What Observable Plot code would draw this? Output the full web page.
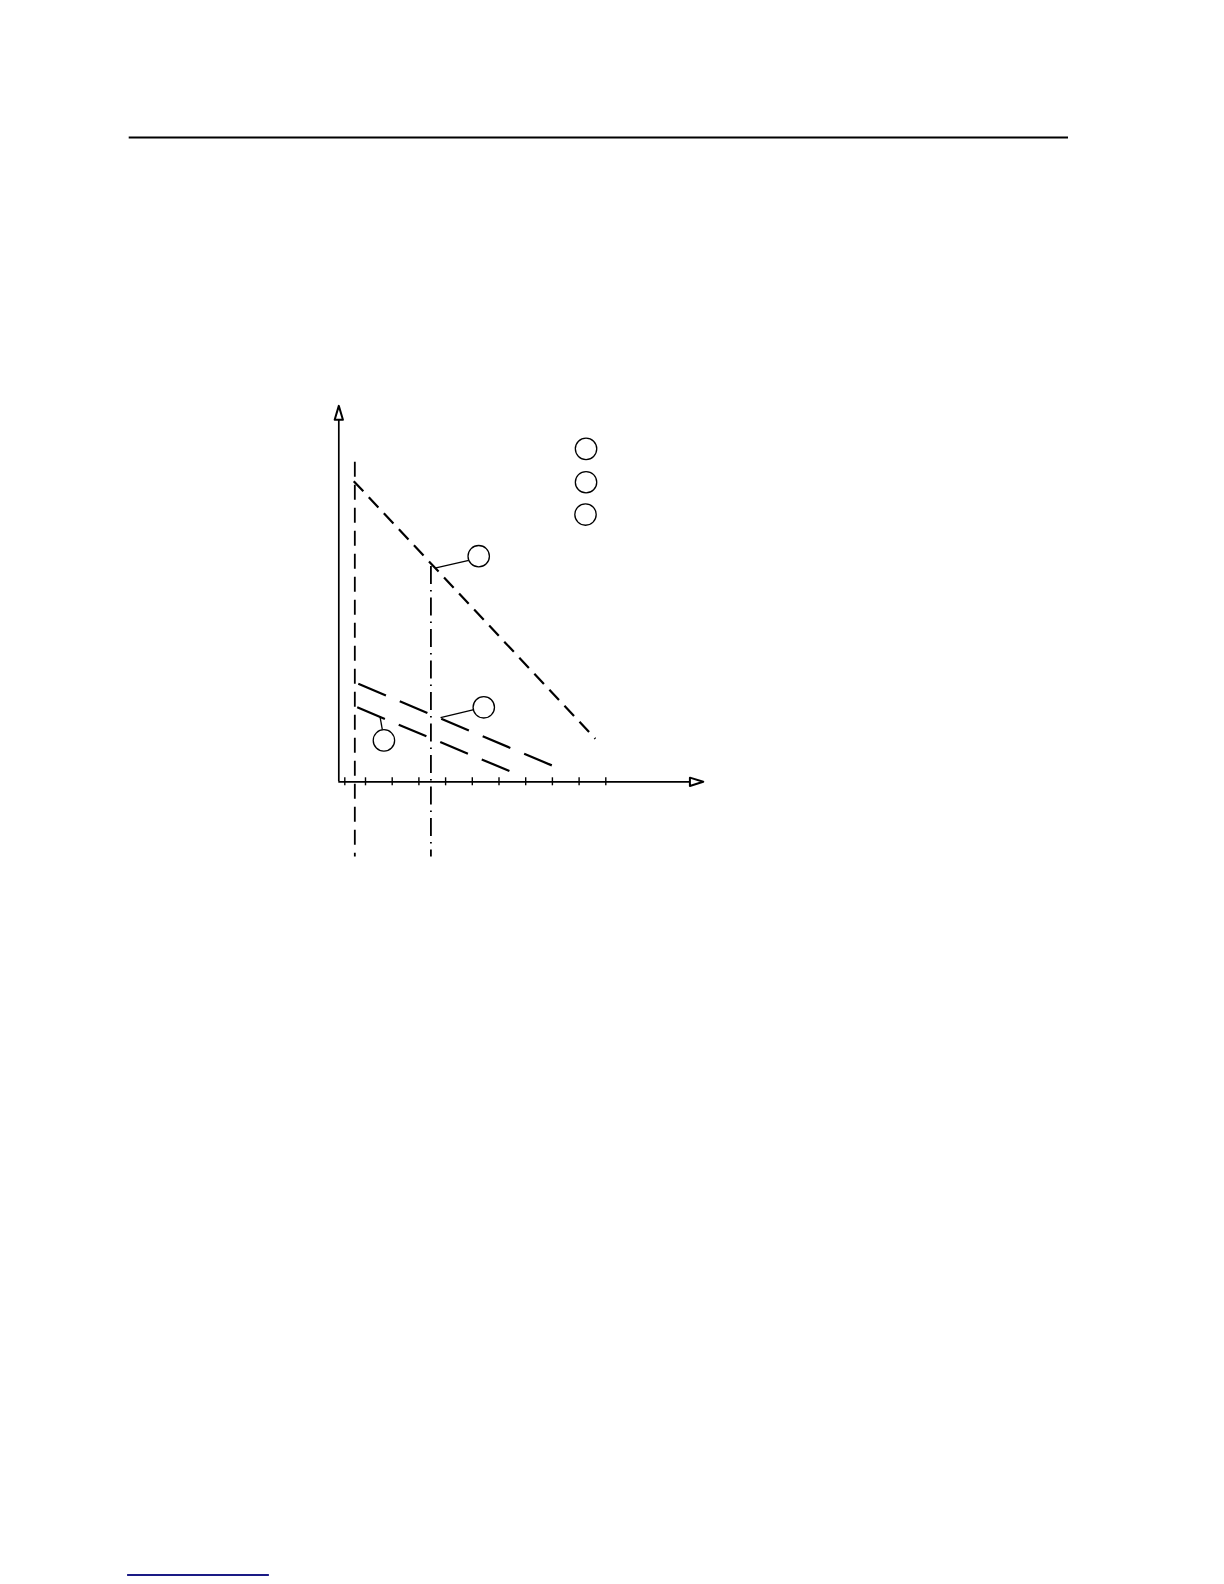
<!DOCTYPE html>
<html>
<head>
<meta charset="utf-8">
<script src="https://cdn.jsdelivr.net/npm/d3@7"></script>
<script src="https://cdn.jsdelivr.net/npm/@observablehq/plot@0.6"></script>
<style>
  html, body { margin: 0; padding: 0; background: #fff; overflow: hidden; }
  #chart svg { display: block; }
</style>
</head>
<body>
<div id="chart"></div>
<script>
// ---- data (in chart units; 1 unit = one x-axis tick step) ----
const xTicks = [0.225, 1, 2, 3, 4, 5, 6, 7, 8, 9, 10];

const lineIds = ["1", "2", "3"];
const lineX1 = [0.56, 0.73, 0.69];
const lineY1 = [11.26, 3.67, 2.79];
const lineX2 = [9.61, 7.99, 6.40];
const lineY2 = [1.61, 0.61, 0.40];

const guideIds = ["dashed", "dashdot"];
const guideX = [0.6, 3.45];
const guideTop = [11.97, 8.06];
const guideBottom = [-2.82, -2.82];

const axisYEnd = 13.56;   // y-axis line end (arrow base)
const axisYTip = 14.08;   // y-axis arrow tip
const axisXEnd = 13.15;   // x-axis line end (arrow base)
const axisXTip = 13.65;   // x-axis arrow tip
const arrowHalf = 0.155;

const legendX = [9.26, 9.26, 9.24];
const legendY = [12.47, 11.22, 10.01];

const calloutX = [5.24, 5.43, 1.69];
const calloutY = [8.45, 2.79, 1.55];
const leaderX1 = [3.60, 3.81, 1.54];
const leaderY1 = [8.00, 2.40, 2.46];
const leaderX2 = [4.87, 5.06, 1.63];
const leaderY2 = [8.29, 2.70, 1.95];

const pageRuleY = [24.13, -29.71];
const pageRuleX1 = [-7.85, -7.91];
const pageRuleX2 = [27.33, -2.60];
const pageRuleColor = ["#000000", "#1a1a85"];

// ---- derived tables ----
const lines = lineIds.map((id, i) => ({id, x1: lineX1[i], y1: lineY1[i], x2: lineX2[i], y2: lineY2[i]}));
const guides = guideIds.map((id, i) => ({id, x: guideX[i], y1: guideTop[i], y2: guideBottom[i]}));
const circles = legendX.map((x, i) => ({x, y: legendY[i]}))
  .concat(calloutX.map((x, i) => ({x, y: calloutY[i]})));
const leaders = leaderX1.map((x1, i) => ({x1, y1: leaderY1[i], x2: leaderX2[i], y2: leaderY2[i]}));
const arrows = [
  {id: "y", x: -arrowHalf, y: axisYEnd}, {id: "y", x: 0, y: axisYTip}, {id: "y", x: arrowHalf, y: axisYEnd},
  {id: "x", x: axisXEnd, y: arrowHalf}, {id: "x", x: axisXTip, y: 0}, {id: "x", x: axisXEnd, y: -arrowHalf}
];
const pageRules = pageRuleY.map((y, i) => ({y, x1: pageRuleX1[i], x2: pageRuleX2[i], c: pageRuleColor[i]}));

// page mapping: origin at (338.3, 781.3) px, 26.7 px per unit
const W = 1224, H = 1584, ox = 338.3, oy = 781.3, u = 26.7;

const chart = Plot.plot({
  width: W,
  height: H,
  margin: 0,
  x: {domain: [-ox / u, (W - ox) / u], axis: null},
  y: {domain: [(oy - H) / u, oy / u], axis: null},
  marks: [
    Plot.ruleY(pageRules, {y: "y", x1: "x1", x2: "x2", stroke: d => d.c, strokeWidth: 2}),
    // axes
    Plot.ruleX([0], {x: d => d, y1: 0, y2: axisYEnd, stroke: "black", strokeWidth: 1.7}),
    Plot.ruleY([0], {y: d => d, x1: 0, x2: axisXEnd, stroke: "black", strokeWidth: 1.7}),
    Plot.ruleX(xTicks, {x: d => d, y1: 0, y2: 0, insetTop: -4, insetBottom: -4, stroke: "black", strokeWidth: 1.4}),
    Plot.line(arrows, {x: "x", y: "y", z: "id", curve: "linear-closed", fill: "white", stroke: "black", strokeWidth: 2}),
    // guide lines
    Plot.ruleX(guides.filter(d => d.id === "dashed"), {x: "x", y1: "y1", y2: "y2", stroke: "black", strokeWidth: 1.8, strokeDasharray: "15,8"}),
    Plot.ruleX(guides.filter(d => d.id === "dashdot"), {x: "x", y1: "y1", y2: "y2", stroke: "black", strokeWidth: 1.8, strokeDasharray: "18,6,1.5,6"}),
    // characteristic lines
    Plot.link(lines.filter(d => d.id === "1"), {x1: "x1", y1: "y1", x2: "x2", y2: "y2", stroke: "black", strokeWidth: 2.2, strokeDasharray: "14,8"}),
    Plot.link(lines.filter(d => d.id !== "1"), {x1: "x1", y1: "y1", x2: "x2", y2: "y2", stroke: "black", strokeWidth: 2.2, strokeDasharray: "30,15"}),
    // leaders and reference circles
    Plot.link(leaders, {x1: "x1", y1: "y1", x2: "x2", y2: "y2", stroke: "black", strokeWidth: 1.3}),
    Plot.dot(circles, {x: "x", y: "y", r: 10.7, fill: "white", stroke: "black", strokeWidth: 1.3})
  ]
});
document.getElementById("chart").appendChild(chart);
</script>
</body>
</html>
